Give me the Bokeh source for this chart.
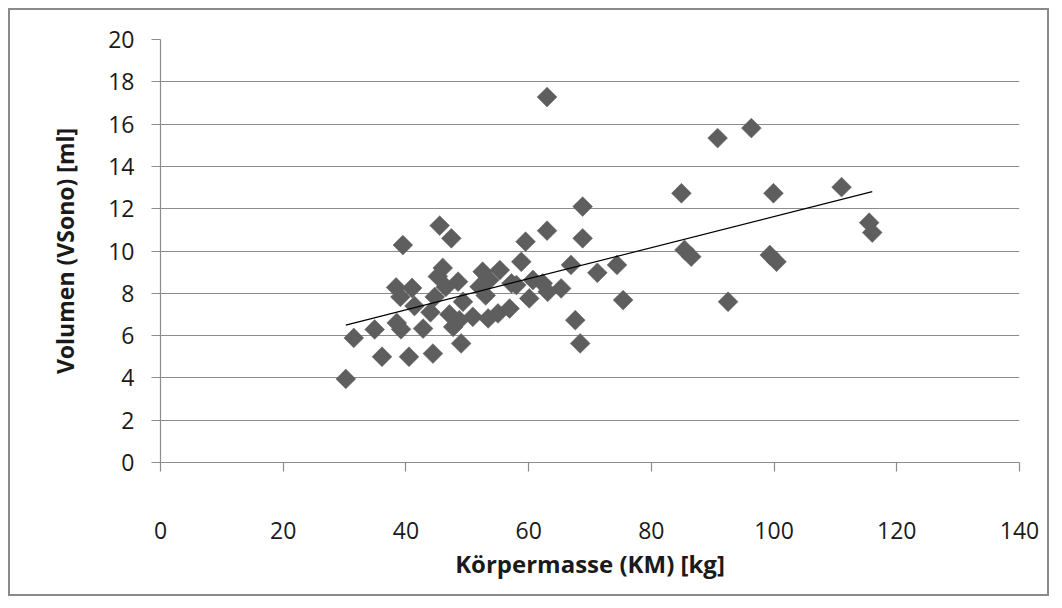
import numpy as np
from bokeh.plotting import figure
from bokeh.models import ColumnDataSource, FixedTicker, Range1d
from bokeh.embed import file_html
from bokeh.resources import INLINE

# Körpermasse (kg) and sonographic volume (ml) per subject
km = [30.2, 31.5, 34.9, 36.1, 38.4, 41.0, 39.1, 41.4, 38.5, 39.2,
      39.5, 40.5, 42.8, 44.4, 45.5, 47.4, 46.0, 45.2, 44.7, 44.0,
      47.1, 47.7, 49.0, 48.5, 49.3, 48.7, 50.9, 46.5, 52.5, 55.3,
      52.0, 53.6, 57.2, 58.8, 59.5, 53.4, 55.0, 56.9, 53.0, 60.7,
      62.3, 58.0, 65.3, 63.1, 60.1, 63.0, 63.0, 66.9, 68.8, 68.8,
      67.6, 68.4, 71.2, 74.4, 75.4, 84.9, 85.4, 86.5, 90.8, 96.3,
      92.5, 99.9, 99.3, 100.4, 111.0, 115.5, 116.0]
vsono = [3.95, 5.89, 6.29, 5.00, 8.28, 8.25, 7.83, 7.40, 6.60, 6.30,
         10.28, 5.00, 6.33, 5.15, 11.20, 10.60, 9.20, 8.80, 7.83, 7.10,
         7.00, 6.41, 5.63, 8.55, 7.60, 6.73, 6.89, 8.30, 9.02, 9.10,
         8.31, 8.63, 8.47, 9.49, 10.44, 6.81, 7.05, 7.28, 7.90, 8.63,
         8.47, 8.39, 8.23, 8.07, 7.76, 10.96, 17.28, 9.34, 12.10, 10.60,
         6.73, 5.63, 8.97, 9.34, 7.68, 12.73, 10.05, 9.73, 15.34, 15.81,
         7.60, 12.73, 9.81, 9.49, 13.02, 11.34, 10.87]

x_ticks = [0, 20, 40, 60, 80, 100, 120, 140]
y_ticks = [0, 2, 4, 6, 8, 10, 12, 14, 16, 18, 20]

# least-squares trend line over the observed mass range
slope, intercept = np.polyfit(km, vsono, 1)
trend_x = [min(km), max(km)]
trend_y = [intercept + slope * v for v in trend_x]

FONT = "Open Sans"
GRID = "#8c8c8c"

p = figure(width=1041, height=588, output_backend="svg", toolbar_location=None,
           x_range=Range1d(0, 140), y_range=Range1d(0, 20),
           min_border_left=150, min_border_right=32, min_border_top=29,
           min_border_bottom=136)
p.styles = {"border": "2px solid #8a8a8a", "margin": "8px"}
p.outline_line_color = None
p.background_fill_color = "white"
p.border_fill_color = "white"

p.xgrid.visible = False
p.ygrid.grid_line_color = GRID
p.ygrid.grid_line_width = 1.2
p.ygrid.ticker = FixedTicker(ticks=y_ticks)

for ax in (p.xaxis[0], p.yaxis[0]):
    ax.axis_line_color = GRID
    ax.axis_line_width = 1.2
    ax.major_tick_line_color = GRID
    ax.major_tick_line_width = 1.2
    ax.major_tick_in = 0
    ax.major_tick_out = 9
    ax.minor_tick_line_color = None
    ax.major_label_text_font = FONT
    ax.major_label_text_font_size = "23px"
    ax.major_label_text_color = "#1a1a1a"
    ax.axis_label_text_font = FONT
    ax.axis_label_text_font_style = "bold"
    ax.axis_label_text_color = "#1a1a1a"

p.xaxis.axis_label_text_font_size = "24px"
p.yaxis.axis_label_text_font_size = "23px"
p.xaxis.ticker = FixedTicker(ticks=x_ticks)
p.yaxis.ticker = FixedTicker(ticks=y_ticks)
p.xaxis.axis_label = "Körpermasse (KM) [kg]"
p.yaxis.axis_label = "Volumen (VSono) [ml]"
p.xaxis.major_label_standoff = 50
p.xaxis.axis_label_standoff = 5
p.yaxis.major_label_standoff = 17
p.yaxis.axis_label_standoff = 24

src = ColumnDataSource(dict(x=km, y=vsono))
p.scatter("x", "y", source=src, marker="square", angle=np.pi / 4, size=14,
          fill_color="#5e5e5e", line_color="#5e5e5e", line_width=0.5)

p.line(trend_x, trend_y, line_color="black", line_width=1.2)

open("out.html", "w").write(file_html(p, INLINE))
